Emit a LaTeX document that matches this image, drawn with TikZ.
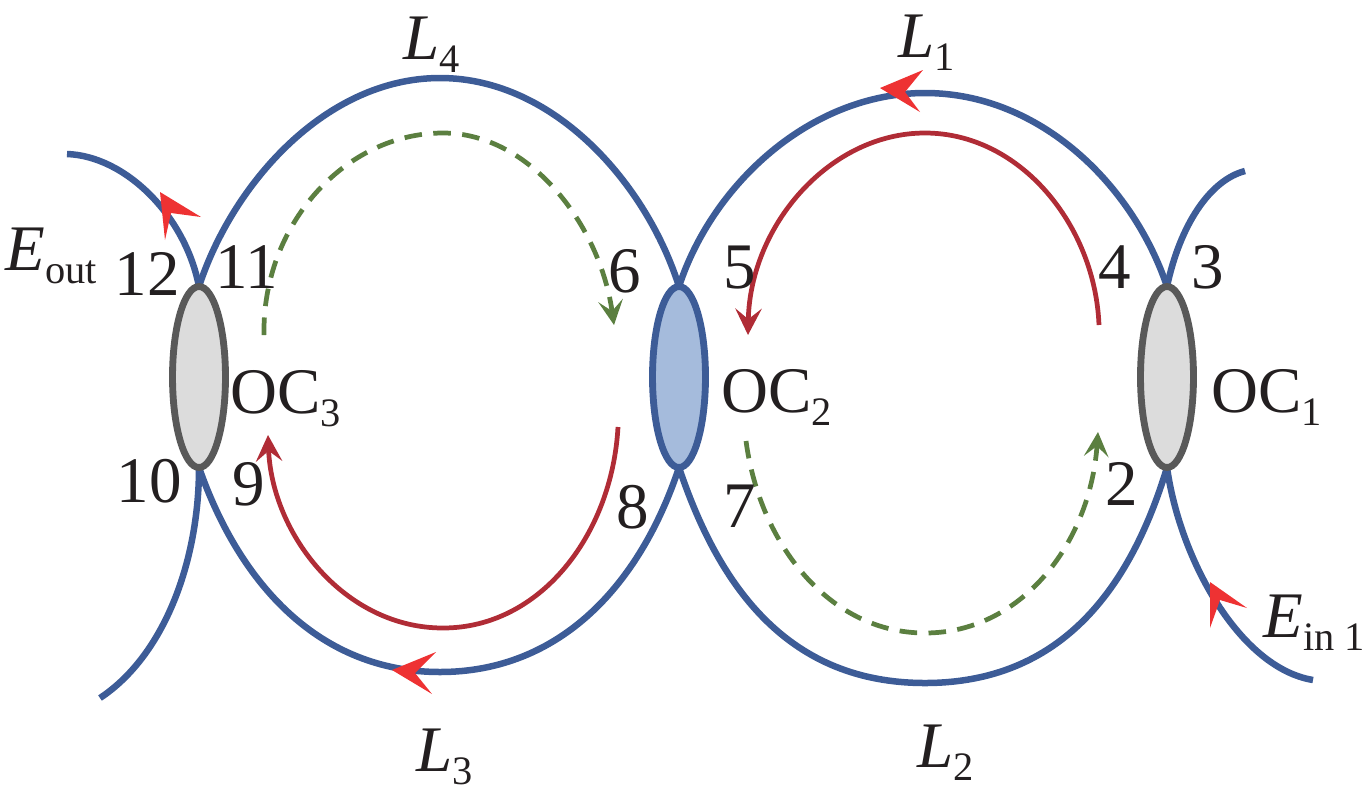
\documentclass[tikz,border=0pt]{standalone}
\usepackage{fontspec}
\setmainfont{Liberation Serif}
\usetikzlibrary{shapes.geometric,arrows.meta}
\definecolor{fibre}{HTML}{3D5C97}
\definecolor{rim}{HTML}{595959}
\definecolor{grayfill}{HTML}{DCDCDC}
\definecolor{bluefill}{HTML}{A5BBDC}
\definecolor{darkred}{HTML}{B02C36}
\definecolor{dashgreen}{HTML}{5B7F40}
\definecolor{headred}{HTML}{EE3233}
\definecolor{ink}{HTML}{231F20}
\newcommand{\subt}[1]{\raisebox{-7.6pt}{\fontsize{23}{23}\selectfont #1}}
\begin{document}
\begin{tikzpicture}[x=0.02cm,y=-0.02cm,
  coupler/.style={shape=ellipse,inner sep=0pt,outer sep=0pt,minimum width=1.06cm,minimum height=3.62cm,line width=3.9pt},
  fibreline/.style={draw=fibre,line width=3.7pt},
  redline/.style={draw=darkred,line width=2.7pt,-{Stealth[length=15pt,width=15pt,inset=6pt]}},
  greenline/.style={draw=dashgreen,line width=2.7pt,dash pattern=on 10pt off 6.5pt,-{Stealth[length=14pt,width=14pt,inset=6pt,sep=0pt]}},
  head/.style={fill=headred,draw=none},
  lab/.style={anchor=base,inner sep=0pt,text=ink,font=\fontsize{37}{37}\selectfont},
  labw/.style={anchor=base west,inner sep=0pt,text=ink,font=\fontsize{37}{37}\selectfont}]
\useasboundingbox (0,0) rectangle (1370,796);
% free ends and apexes
\coordinate (eout) at (67,154);
\coordinate (lowl) at (100,698);
\coordinate (upr) at (1245,171);
\coordinate (ein) at (1313,680);
\coordinate (t4) at (440,78);
\coordinate (b3) at (440,672);
\coordinate (t1) at (925,93);
\coordinate (b2) at (925,683);
% couplers (positioned first, drawn after the fibres)
\path (199,377) node[coupler] (oc3) {};
\path (679,377) node[coupler] (oc2) {};
\path (1167,377) node[coupler] (oc1) {};
% fibres
\draw[fibreline] (eout) .. controls (125,156) and (185,215) .. (oc3.north);
\draw[fibreline] (oc3.south) .. controls (199,560) and (165,655) .. (lowl);
\draw[fibreline] (oc1.north) .. controls (1180,225) and (1210,180) .. (upr);
\draw[fibreline] (oc1.south) .. controls (1180,560) and (1240,668) .. (ein);
\draw[fibreline] (oc3.north) .. controls (232,185) and (325,78) .. (t4) .. controls (555,78) and (647,185) .. (oc2.north);
\draw[fibreline] (oc3.south) .. controls (240,585) and (320,672) .. (b3) .. controls (560,672) and (640,585) .. (oc2.south);
\draw[fibreline] (oc2.north) .. controls (712,185) and (810,93) .. (t1) .. controls (1040,93) and (1133,185) .. (oc1.north);
\draw[fibreline] (oc2.south) .. controls (720,590) and (790,683) .. (b2) .. controls (1060,683) and (1130,590) .. (oc1.south);
% coupler bodies
\node[coupler,draw=rim,fill=grayfill] at (oc3) {};
\node[coupler,draw=fibre,fill=bluefill] at (oc2) {};
\node[coupler,draw=rim,fill=grayfill] at (oc1) {};
% inner arcs
\coordinate (r1s) at (1099,325);
\coordinate (r1m) at (925,133);
\coordinate (r1e) at (748,335);
\coordinate (r2s) at (618,427);
\coordinate (r2m) at (443,628);
\coordinate (r2e) at (268,435);
\coordinate (g1s) at (264,335);
\coordinate (g1m) at (443,133);
\coordinate (g1e) at (614,325);
\coordinate (g2s) at (746,441);
\coordinate (g2m) at (925,633);
\coordinate (g2e) at (1098,432);
\draw[redline] (r1s) .. controls (1095,225) and (1020,133) .. (r1m) .. controls (830,133) and (750,225) .. (r1e);
\draw[redline] (r2s) .. controls (612,535) and (540,628) .. (r2m) .. controls (345,628) and (272,535) .. (r2e);
\draw[greenline] (g1s) .. controls (262,225) and (345,133) .. (g1m) .. controls (530,133) and (600,225) .. (g1e);
\draw[greenline] (g2s) .. controls (760,545) and (830,633) .. (g2m) .. controls (1020,633) and (1090,545) .. (g2e);
% red heads
\fill[head] (160,192) -- (201,217) -- (171,213) -- (165,240) -- cycle;
\fill[head] (1210,582) -- (1247,608) -- (1220,600) -- (1210,628) -- cycle;
\fill[head] (880,88) -- (923,70) -- (905,92) -- (920,112) -- cycle;
\fill[head] (392,670) -- (436,652) -- (415,673) -- (432,694) -- cycle;
% labels
\node[lab] (n12) at (147,295) {12};
\node[lab] (n11) at (247,288) {11};
\node[lab] (n10) at (149,502) {10};
\node[lab] (n9) at (249,505) {9};
\node[lab] (n6) at (625,292) {6};
\node[lab] (n5) at (740,288) {5};
\node[lab] (n8) at (633,528) {8};
\node[lab] (n7) at (740,527) {7};
\node[lab] (n4) at (1115,288) {4};
\node[lab] (n3) at (1208,288) {3};
\node[lab] (n2) at (1122,505) {2};
\node[labw] (loc3) at (230,413) {OC\subt{3}};
\node[labw] (loc2) at (721,412) {OC\subt{2}};
\node[labw] (loc1) at (1211,412) {OC\subt{1}};
\node[labw] (leout) at (5,270) {\textit{E}\subt{out}};
\node[labw] (lein) at (1263,637) {\textit{E}\subt{in 1}};
\node[labw] (l4) at (403,59) {\textit{L}\subt{4}};
\node[labw] (l1) at (898,57) {\textit{L}\subt{1}};
\node[labw] (l3) at (416,771) {\textit{L}\subt{3}};
\node[labw] (l2) at (917,767) {\textit{L}\subt{2}};
\end{tikzpicture}
\end{document}
